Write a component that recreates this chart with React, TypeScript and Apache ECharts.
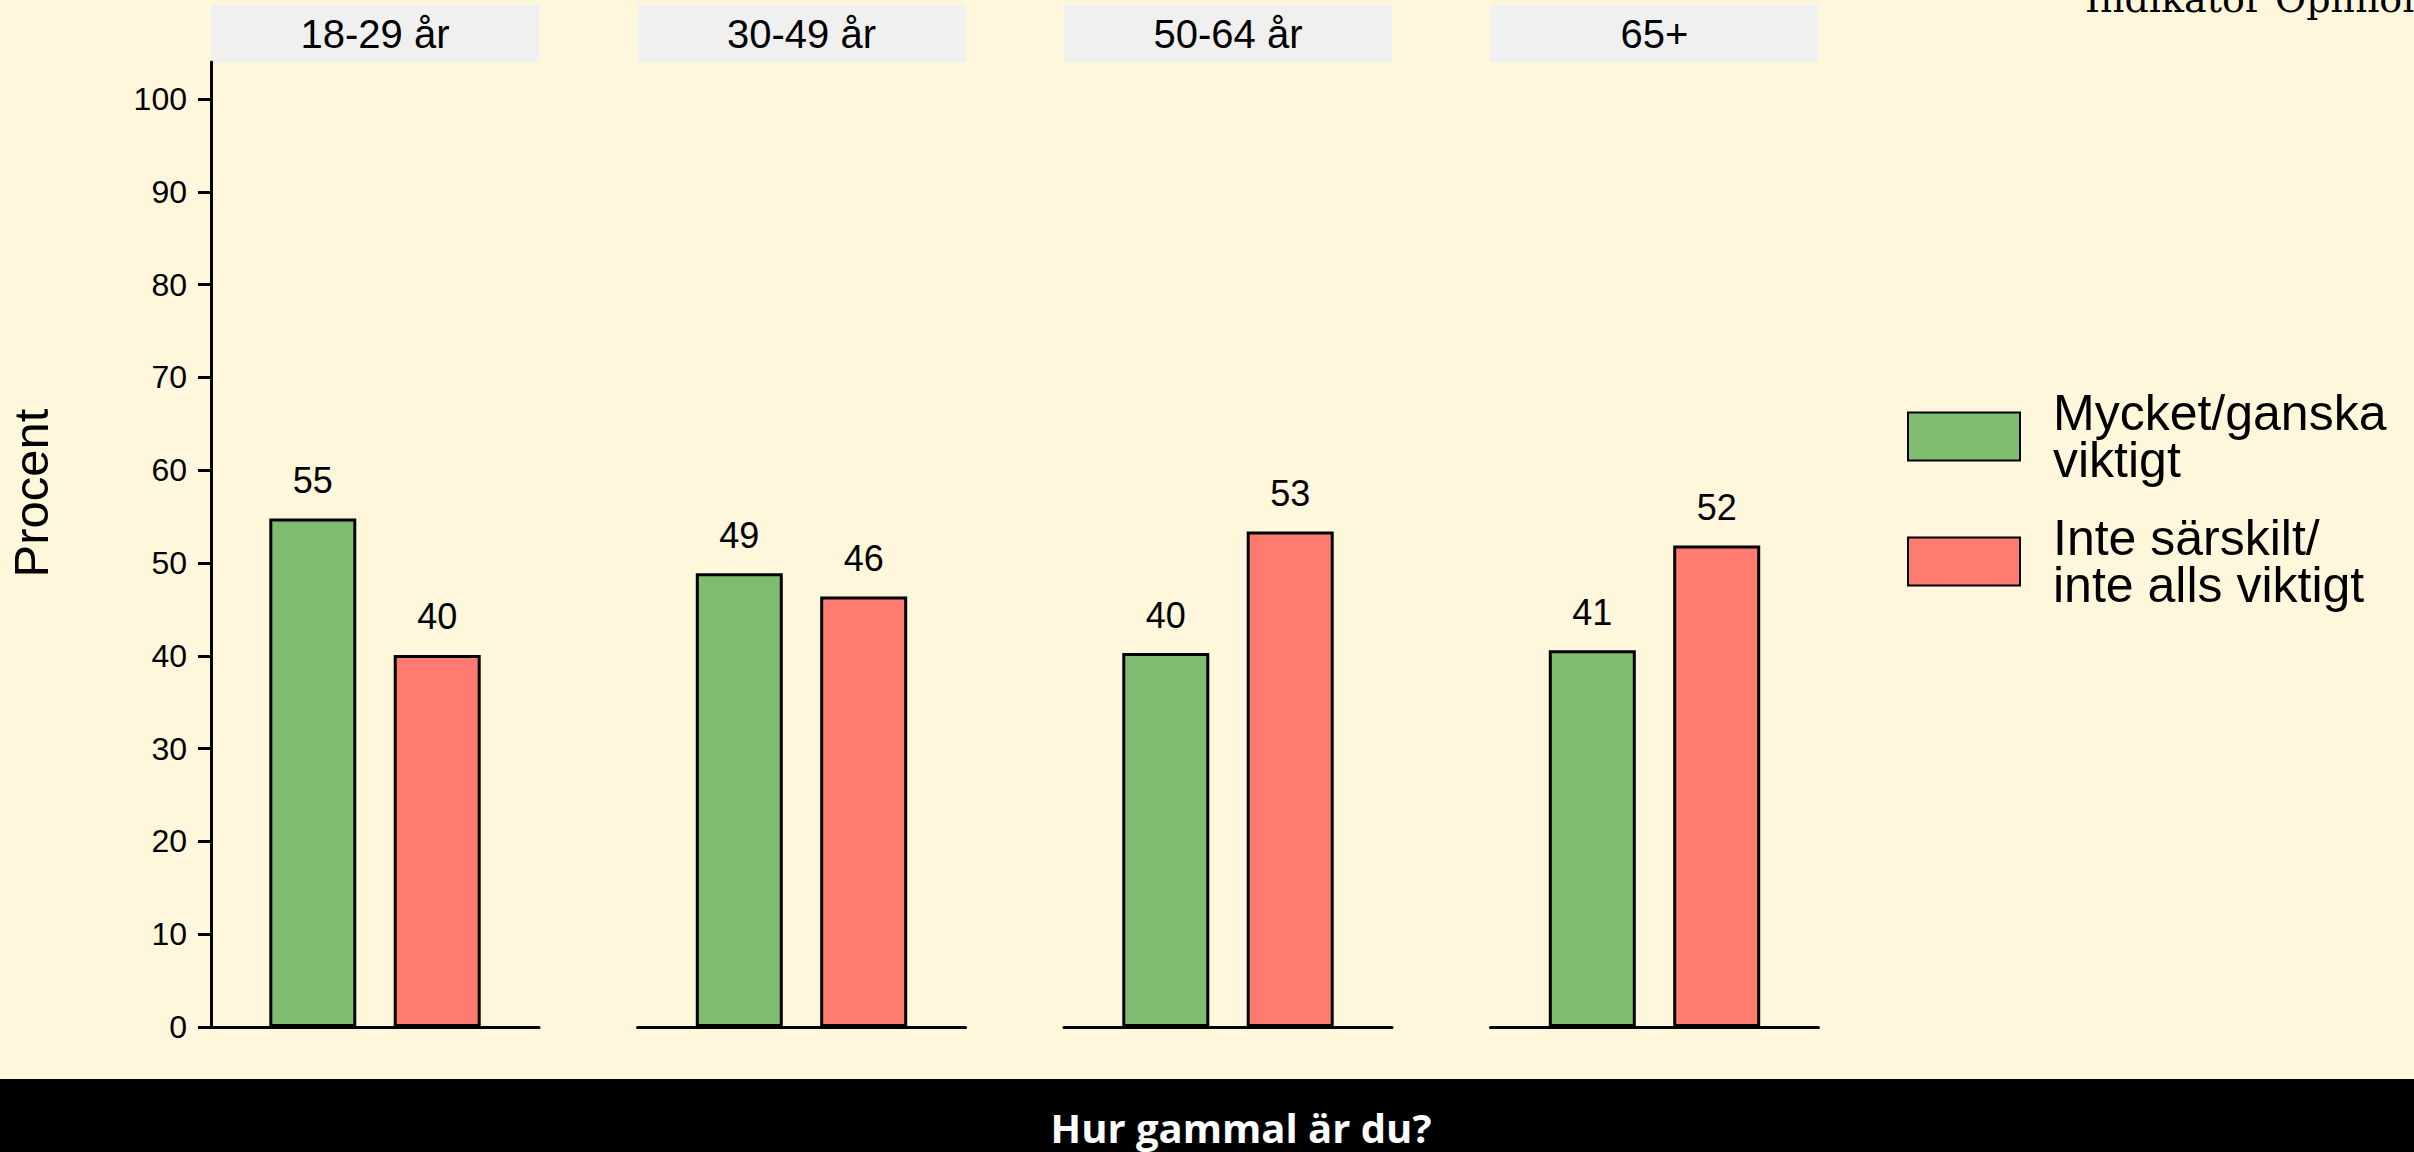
import React, { useEffect, useRef } from "react";
import * as echarts from "echarts";

const ageGroups = ["18-29 år", "30-49 år", "50-64 år", "65+"];
const greenValues = [54.8, 48.9, 40.3, 40.6];
const redValues = [40.1, 46.4, 53.4, 51.9];
const yTicks = [0, 10, 20, 30, 40, 50, 60, 70, 80, 90, 100];
const seriesNames = ["Mycket/ganska\nviktigt", "Inte särskilt/\ninte alls viktigt"];
const seriesColors = ["#7FBC6F", "#FF7B6F"];
const yAxisTitle = "Procent";
const xAxisTitle = "Hur gammal är du?";
const brandText = "Indikator Opinion";

const FONT = "'Liberation Sans', Arial, sans-serif";

export default function App() {
  const ref = useRef<HTMLDivElement>(null);
  useEffect(() => {
    if (!ref.current) return;
    const chart = echarts.init(ref.current, null, { renderer: "svg" });
    const W = 2414;
    const H = 1152;
    const gridLeft0 = 211;
    const gridStep = 426.5;
    const gridW = 328;
    const gridTop = 62;
    const gridH = 965;

    const grids: any[] = [];
    const xAxes: any[] = [];
    const yAxes: any[] = [];
    const series: any[] = [];
    const graphics: any[] = [];

    ageGroups.forEach((g, i) => {
      const left = gridLeft0 + gridStep * i;
      grids.push({
        left,
        top: gridTop,
        width: gridW,
        height: gridH,
        containLabel: false,
        outerBoundsMode: "none",
      });
      xAxes.push({
        type: "category",
        gridIndex: i,
        data: [g],
        axisLine: { show: true, lineStyle: { color: "#000", width: 3 } },
        axisTick: { show: false },
        axisLabel: { show: false },
        splitLine: { show: false },
      });
      yAxes.push({
        type: "value",
        gridIndex: i,
        min: 0,
        max: 104,
        show: i === 0,
        axisLine: { show: true, lineStyle: { color: "#000", width: 3 } },
        axisTick: {
          show: true,
          length: 13,
          lineStyle: { color: "#000", width: 3 },
          customValues: yTicks,
        },
        axisLabel: {
          show: true,
          margin: 24,
          fontSize: 32,
          color: "#000",
          fontFamily: FONT,
          customValues: yTicks,
        },
        splitLine: { show: false },
      });
      [greenValues, redValues].forEach((vals, s) => {
        series.push({
          type: "bar",
          name: seriesNames[s],
          xAxisIndex: i,
          yAxisIndex: i,
          data: [vals[i]],
          barWidth: 87,
          barGap: "43%",
          itemStyle: { color: seriesColors[s], borderColor: "#000", borderWidth: 3 },
          label: {
            show: true,
            position: "top",
            distance: 20,
            fontSize: 36,
            color: "#000",
            fontFamily: FONT,
            formatter: (p: any) => String(Math.round(p.value)),
          },
        });
      });
      graphics.push({
        type: "rect",
        shape: { x: left, y: 5, width: gridW, height: 57 },
        style: { fill: "#F0F0F0" },
        silent: true,
      });
      graphics.push({
        type: "text",
        x: left + gridW / 2,
        y: 34,
        style: {
          text: g,
          fontSize: 40,
          fontFamily: FONT,
          fill: "#000",
          align: "center",
          verticalAlign: "middle",
        },
        silent: true,
      });
    });

    graphics.push({
      type: "text",
      x: 31,
      y: 493,
      rotation: Math.PI / 2,
      style: {
        text: yAxisTitle,
        fontSize: 49,
        fontFamily: FONT,
        fill: "#000",
        align: "center",
        verticalAlign: "middle",
      },
      silent: true,
    });
    graphics.push({
      type: "rect",
      shape: { x: 0, y: 1079, width: W, height: H - 1079 },
      style: { fill: "#000" },
      silent: true,
    });
    graphics.push({
      type: "text",
      x: 1241,
      y: 1127,
      style: {
        text: xAxisTitle,
        fontSize: 40,
        lineHeight: 40,
        fontWeight: "bold",
        fontFamily: "'Open Sans', sans-serif",
        fill: "#fff",
        align: "center",
        verticalAlign: "middle",
      },
      silent: true,
    });
    graphics.push({
      type: "text",
      x: 2085,
      y: -1,
      style: {
        text: brandText,
        fontSize: 38,
        fontFamily: "'DejaVu Serif', serif",
        fill: "#000",
        align: "left",
        verticalAlign: "middle",
      },
      silent: true,
    });

    chart.setOption({
      animation: false,
      backgroundColor: "#FFF7DC",
      grid: grids,
      xAxis: xAxes,
      yAxis: yAxes,
      series,
      legend: {
        orient: "vertical",
        left: 1902,
        top: 383,
        icon: "rect",
        itemWidth: 112,
        itemHeight: 48,
        itemGap: 28,
        data: seriesNames,
        selectedMode: false,
        textStyle: {
          fontSize: 50,
          lineHeight: 47,
          color: "#000",
          fontFamily: FONT,
          padding: [0, 0, 0, 28],
        },
      },
      graphic: graphics,
    });
    return () => chart.dispose();
  }, []);
  return (
    <div
      ref={ref}
      style={{ position: "fixed", left: 0, top: 0, width: 2414, height: 1152 }}
    />
  );
}
